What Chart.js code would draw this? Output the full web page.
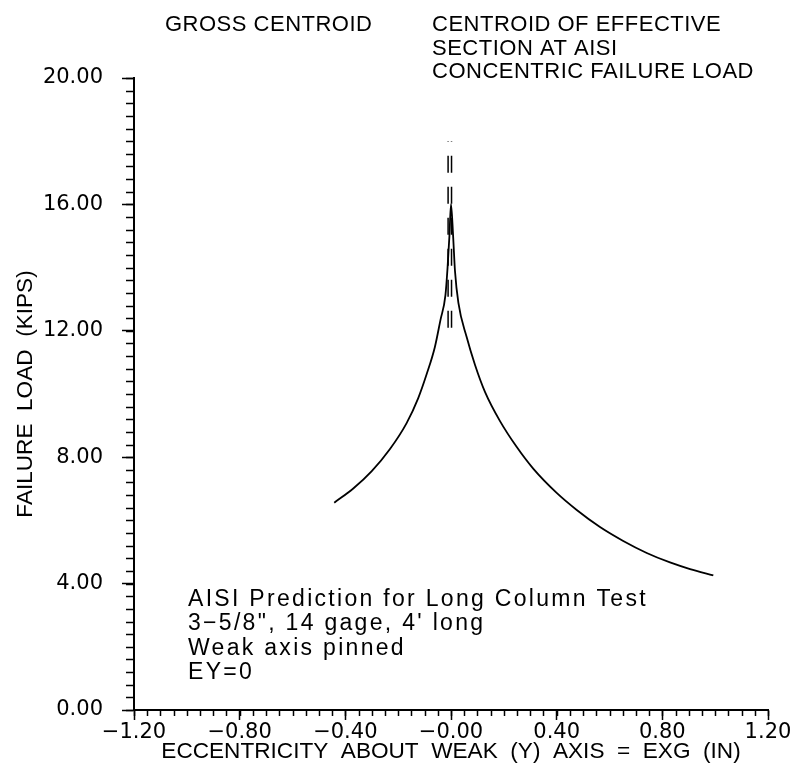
<!DOCTYPE html>
<html>
<head>
<meta charset="utf-8">
<script src="https://cdn.jsdelivr.net/npm/chart.js@4/dist/chart.umd.min.js"></script>
<style>
  body { margin: 0; background: #fff; }
  #wrap { width: 791px; height: 775px; }
</style>
</head>
<body>
<div id="wrap"><canvas id="loadChart" width="791" height="775"></canvas></div>
<script>
// failure load curve (eccentricity in, load kips)
const eccX = [-0.442, -0.370, -0.300, -0.231, -0.168, -0.124, -0.092, -0.061, -0.040, -0.021,
              -0.013, -0.006, 0.000, 0.008, 0.015, 0.028, 0.059, 0.091, 0.129, 0.185,
              0.249, 0.312, 0.400, 0.476, 0.564, 0.652, 0.741, 0.829, 0.905, 0.993];
const loadY = [6.56, 7.01, 7.56, 8.26, 9.08, 9.87, 10.63, 11.49, 12.34, 13.13,
               14.00, 15.00, 16.01, 15.00, 13.90, 12.88, 11.81, 10.92, 10.06, 9.15,
               8.32, 7.63, 6.87, 6.33, 5.79, 5.35, 4.97, 4.67, 4.46, 4.26];

// the two centroid marker lines (drawn bottom to top)
const grossCentroidX = [-0.011, -0.011];
const effCentroidX = [0.002, 0.002];
const centroidY = [12.1, 18.0];

const xTicks = [-1.2, -0.8, -0.4, 0, 0.4, 0.8, 1.2];
const yTicks = [0, 4, 8, 12, 16, 20];

const topLabelLeft = ['GROSS CENTROID'];
const topLabelRight = ['CENTROID OF EFFECTIVE', 'SECTION AT AISI', 'CONCENTRIC FAILURE LOAD'];
const noteLines = ['AISI Prediction for Long Column Test', '3\u22125/8", 14 gage, 4\' long', 'Weak axis pinned', 'EY=0'];

const toPts = (xs, ys) => xs.map((x, i) => ({x: x, y: ys[i]}));

// the plotter prints zero on the x axis as "-0.00"
function fmtX(v) {
    const s = Math.abs(v).toFixed(2);
    return v <= 0 ? '\u2212' + s : s;
}

// minor ticks + text labels
const extrasPlugin = {
    id: 'extras',
    afterDraw(chart) {
        const ctx = chart.ctx;
        const xs = chart.scales.x, ys = chart.scales.y;
        ctx.save();
        ctx.strokeStyle = '#000';
        ctx.lineWidth = 1.5;
        ctx.beginPath();
        for (let i = 0; i <= 48; i++) {
            const px = Math.round(xs.getPixelForValue(-1.2 + i * 0.05)) + 0.5;
            ctx.moveTo(px, xs.top);
            ctx.lineTo(px, xs.top + 6);
        }
        for (let i = 0; i <= 50; i++) {
            const py = Math.round(ys.getPixelForValue(i * 0.4)) + 0.5;
            ctx.moveTo(ys.right, py);
            ctx.lineTo(ys.right - 8, py);
        }
        ctx.stroke();

        ctx.fillStyle = '#000';
        ctx.textBaseline = 'alphabetic';
        ctx.font = '22px "Liberation Sans"';
        ctx.letterSpacing = '0.5px';
        topLabelLeft.forEach((t, i) => ctx.fillText(t, 165, 31 + i * 23.5));
        topLabelRight.forEach((t, i) => ctx.fillText(t, 432, 31 + i * 23.5));

        ctx.font = '23px "Liberation Sans"';
        ctx.letterSpacing = '2.3px';
        noteLines.forEach((t, i) => ctx.fillText(t, 188, 606 + i * 24.3));
        ctx.restore();
    }
};

new Chart(document.getElementById('loadChart'), {
    type: 'scatter',
    data: {
        datasets: [
            { label: 'AISI prediction', data: toPts(eccX, loadY), showLine: true, borderColor: '#000',
              borderWidth: 1.8, pointRadius: 0, cubicInterpolationMode: 'monotone' },
            { label: 'Gross centroid', data: toPts(grossCentroidX, centroidY), showLine: true, borderColor: '#000',
              borderWidth: 1.5, borderDash: [17, 14], pointRadius: 0 },
            { label: 'Effective centroid', data: toPts(effCentroidX, centroidY), showLine: true, borderColor: '#000',
              borderWidth: 1.5, borderDash: [17, 14], pointRadius: 0 }
        ]
    },
    options: {
        responsive: false,
        animation: false,
        layout: { padding: { left: 0, top: 78, right: 23, bottom: 0 } },
        plugins: { legend: { display: false }, tooltip: { enabled: false } },
        scales: {
            x: {
                type: 'linear', min: -1.2, max: 1.2,
                afterBuildTicks: s => { s.ticks = xTicks.map(v => ({value: v})); },
                afterFit: s => { s.height = 65; s.paddingLeft = 0; s.paddingRight = 0; },
                grid: { drawOnChartArea: false, drawTicks: true, tickLength: 10, tickColor: '#000', tickWidth: 1.5 },
                border: { display: true, color: '#000', width: 2 },
                ticks: { color: '#000', padding: 0, maxRotation: 0, autoSkip: false,
                         font: { family: '"DejaVu Sans"', size: 21 }, callback: v => fmtX(v) },
                title: { display: true, text: 'ECCENTRICITY  ABOUT  WEAK  (Y)  AXIS  =  EXG  (IN)', color: '#000',
                         font: { family: '"Liberation Sans"', size: 22.6 }, padding: { top: 0, bottom: 10 } }
            },
            y: {
                type: 'linear', min: 0, max: 20,
                afterBuildTicks: s => { s.ticks = yTicks.map(v => ({value: v})); },
                afterFit: s => { s.width = 134; },
                grid: { drawOnChartArea: false, drawTicks: true, tickLength: 12, tickColor: '#000', tickWidth: 1.5 },
                border: { display: true, color: '#000', width: 2 },
                ticks: { color: '#000', padding: 19, autoSkip: false,
                         font: { family: '"DejaVu Sans"', size: 21 }, callback: v => v.toFixed(2) },
                title: { display: true, text: 'FAILURE  LOAD  (KIPS)', color: '#000',
                         font: { family: '"Liberation Sans"', size: 22.6 }, padding: { top: 12, bottom: 0 } }
            }
        }
    },
    plugins: [extrasPlugin]
});
</script>
</body>
</html>
